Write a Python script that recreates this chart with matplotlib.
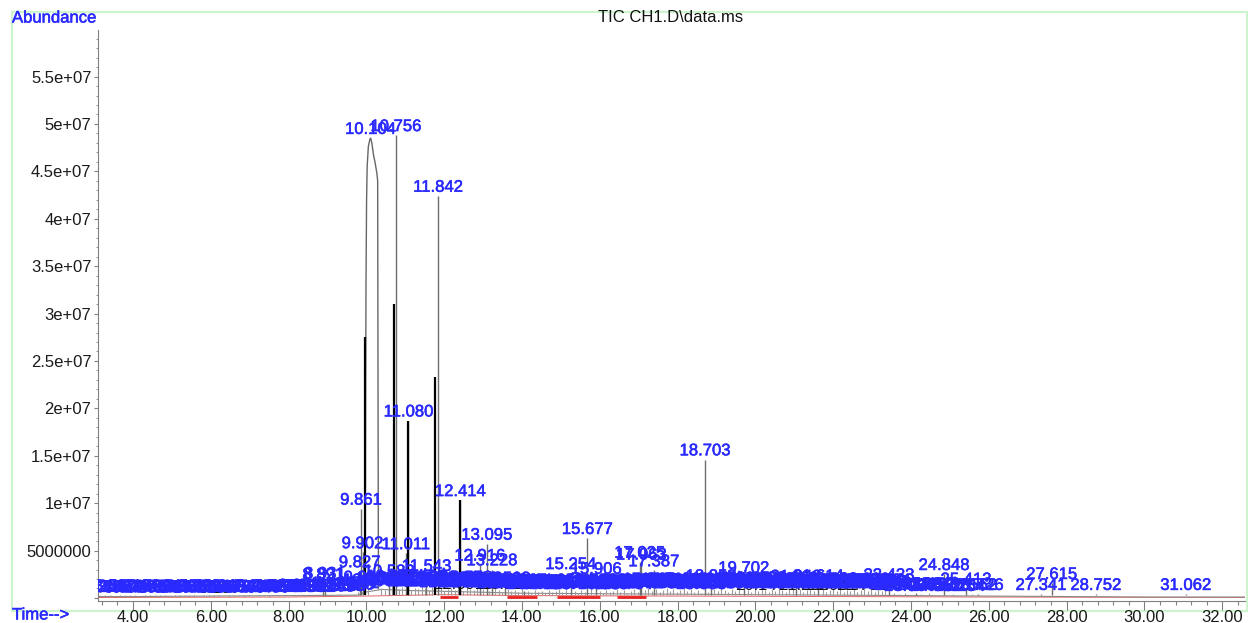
import numpy as np
import matplotlib.pyplot as plt
import matplotlib.patheffects as pe
from matplotlib.ticker import MultipleLocator, FuncFormatter
from matplotlib.patches import Rectangle

plt.rcParams['font.family'] = ['Liberation Sans', 'DejaVu Sans']

# labelled peaks: retention time (min), apex abundance (x1e6)
peak_rt = [8.891, 8.931, 9.827, 9.861, 9.902, 10.583, 10.756, 11.011, 11.080, 11.543,
           11.842, 12.414, 12.916, 13.095, 13.228, 13.562, 14.063, 15.254, 15.677, 15.906,
           17.025, 17.063, 17.387, 18.703, 18.859, 19.702, 21.043, 21.614, 23.433, 24.128,
           24.848, 25.413, 25.726, 27.341, 27.615, 28.752, 31.062]
peak_h = [1.5, 1.6, 2.8, 9.4, 4.8, 1.85, 48.8, 4.7, 18.7, 2.4,
          42.4, 10.3, 3.5, 5.7, 3.0, 1.1, 0.7, 2.6, 6.3, 2.1,
          3.8, 3.6, 2.9, 14.6, 1.35, 2.2, 1.3, 1.35, 1.45, 0.5,
          2.5, 1.0, 0.4, 0.4, 1.55, 0.4, 0.4]

# the big saturated peak at 10.104
broad_t = [9.97, 9.98, 9.99, 10.005, 10.02, 10.05, 10.09, 10.11, 10.14, 10.18,
           10.22, 10.27, 10.29, 10.30, 10.31]
broad_v = [0.5, 20.0, 33.0, 42.0, 45.5, 47.6, 48.4, 48.5, 48.0, 46.8,
           46.0, 44.8, 44.0, 20.0, 1.0]
broad_label = 10.104

# dark leading edges of the large peaks
edge_rt = [9.96, 10.71, 11.08, 11.77, 12.41]
edge_top = [27.5, 31.0, 18.7, 23.3, 10.3]

# small integrated peaks along the baseline
small_rt = [3.153, 3.281, 3.402, 3.537, 3.664, 3.792, 3.918, 4.047, 4.176, 4.301,
            4.429, 4.558, 4.686, 4.813, 4.941, 5.069, 5.197, 5.325, 5.452, 5.581,
            5.709, 5.836, 5.964, 6.093, 6.221, 6.348, 6.476, 6.604, 6.732, 6.859,
            6.988, 7.116, 7.243, 7.372, 7.499, 7.627, 7.755, 7.883, 8.011, 8.139,
            8.267, 8.394, 8.523, 8.651, 8.778, 9.035, 9.163, 9.291, 9.418, 9.547,
            9.675, 9.781,
            9.953, 10.046, 10.381, 10.468, 10.647, 10.712, 10.834, 10.921, 11.153, 11.247,
            11.338, 11.426, 11.512, 11.604, 11.693, 11.918, 12.007, 12.096, 12.185, 12.274,
            12.363, 12.487, 12.576, 12.665, 12.754, 12.843, 12.998, 13.156, 13.312, 13.401,
            13.489, 13.641, 13.729, 13.818, 13.906, 13.995, 14.152, 14.241, 14.329, 14.418,
            14.507, 14.596, 14.684, 14.773, 14.862, 14.951, 15.039, 15.128, 15.352, 15.441,
            15.529, 15.618, 15.782, 15.994, 16.083, 16.172, 16.261, 16.349, 16.438, 16.527,
            16.616, 16.704, 16.793, 16.882, 16.971, 17.154, 17.243, 17.331, 17.448, 17.537,
            17.626, 17.715, 17.804, 17.893, 17.982, 18.071, 18.160, 18.249, 18.338, 18.427,
            18.516, 18.605, 18.794, 18.948, 19.037, 19.126, 19.215, 19.304, 19.393, 19.482,
            19.571, 19.803, 19.892, 19.981, 20.070, 20.159, 20.248, 20.337, 20.426, 20.515,
            20.604, 20.693, 20.782, 20.871, 20.960, 21.049, 21.138, 21.227, 21.316, 21.405,
            21.494, 21.732, 21.821, 21.910, 21.999, 22.088, 22.177, 22.266, 22.355, 22.444,
            22.533, 22.622, 22.711, 22.800, 22.889, 22.978, 23.067, 23.156, 23.245, 23.334,
            23.571, 23.702, 23.833, 23.964, 24.259, 24.452, 24.611, 25.081, 25.254, 25.562]
small_h = [0.2, 0.25, 0.15, 0.3, 0.2, 0.15, 0.25, 0.2, 0.3, 0.15,
           0.2, 0.25, 0.15, 0.2, 0.3, 0.2, 0.15, 0.25, 0.2, 0.15,
           0.3, 0.2, 0.25, 0.15, 0.2, 0.3, 0.15, 0.25, 0.2, 0.15,
           0.2, 0.3, 0.25, 0.2, 0.15, 0.3, 0.2, 0.25, 0.3, 0.2,
           0.35, 0.25, 0.3, 0.2, 0.35, 0.3, 0.25, 0.4, 0.3, 0.35,
           0.45, 0.6,
           1.2, 0.9, 1.1, 0.8, 1.3, 1.0, 0.9, 1.2, 0.8, 1.1,
           0.9, 1.3, 1.0, 0.8, 1.2, 1.0, 0.7, 0.9, 1.1, 0.8,
           1.0, 0.7, 1.2, 0.9, 0.8, 1.1, 0.9, 0.7, 1.0, 0.8,
           0.6, 0.9, 0.7, 0.8, 0.6, 0.9, 0.7, 0.5, 0.8, 0.6,
           0.7, 0.5, 0.8, 0.6, 0.7, 0.9, 0.6, 0.8, 0.7, 0.5,
           0.8, 0.6, 0.9, 0.7, 0.5, 0.8, 0.6, 0.7, 0.9, 0.6,
           0.8, 0.5, 0.7, 0.9, 0.6, 0.8, 1.0, 0.7, 0.9, 0.6,
           0.8, 1.0, 0.7, 0.9, 0.6, 0.8, 1.0, 0.7, 0.9, 0.6,
           0.8, 0.5, 0.6, 0.9, 0.7, 1.0, 0.8, 0.6, 0.9, 0.7,
           1.0, 0.8, 0.6, 0.9, 0.7, 1.1, 0.8, 0.6, 0.9, 0.7,
           1.0, 0.8, 0.6, 0.9, 1.1, 0.7, 0.9, 0.6, 0.8, 1.0,
           0.7, 0.9, 0.6, 0.8, 1.0, 0.7, 0.9, 0.6, 0.8, 0.7,
           0.9, 0.6, 0.8, 1.0, 0.7, 0.9, 0.6, 0.8, 0.7, 0.9,
           0.5, 0.4, 0.5, 0.3, 0.4, 0.5, 0.3, 0.4, 0.3, 0.4]

# black labels mostly hidden under the crowd (baseline abundance, x1e6)
dark_rt = [6.207, 8.462, 12.391, 13.624, 14.171, 20.144, 21.238, 21.951, 22.732]
dark_h = [0.55, 0.6, 0.9, 0.95, 0.9, 0.8, 0.85, 0.8, 0.85]

# baseline of the TIC trace (x1e6)
base_t = [3.09, 4.0, 6.0, 8.0, 9.8, 9.95, 10.4, 11.0, 12.0, 13.0, 14.0,
          16.0, 18.0, 20.0, 22.0, 24.0, 26.0, 28.0, 30.0, 32.6]
base_v = [0.15, 0.15, 0.2, 0.25, 0.3, 0.6, 0.9, 0.8, 0.7, 0.6, 0.5,
          0.45, 0.4, 0.35, 0.3, 0.25, 0.2, 0.15, 0.1, 0.1]
red_t = [3.09, 8.0, 10.0, 12.0, 14.0, 18.0, 22.0, 26.0, 32.6]
red_v = [0.05, 0.1, 0.2, 0.35, 0.25, 0.2, 0.15, 0.1, 0.05]
red_start = [11.89, 13.61, 14.90, 16.44]
red_end = [12.35, 14.38, 16.00, 17.20]

blue = '#2a2aff'
grey = '#8a8a8a'
M = 1e6
lab_pad = 0.45
thick = [pe.withStroke(linewidth=0.4, foreground=blue)]

fig = plt.figure(figsize=(12.48, 6.23), dpi=100)
ax = fig.add_axes([97.7 / 1248, 22 / 623, (1245 - 97.7) / 1248, 571 / 623])

ax.plot(red_t, np.array(red_v) * M, color='#e86060', lw=0.7, zorder=1)
ax.hlines(np.full(len(red_start), 0.1 * M), red_start, red_end, color='#e82020', lw=2.0, zorder=1)
ax.plot(base_t, np.array(base_v) * M, color=grey, lw=0.8, zorder=2)
ax.vlines(small_rt, 0.3 * M, np.array(small_h) * M, color='#9a9a9a', lw=0.8, zorder=2)
ax.vlines(peak_rt, 0.3 * M, np.array(peak_h) * M, color='#6e6e6e', lw=1.0, zorder=2)
ax.plot(broad_t, np.array(broad_v) * M, color='#666666', lw=1.0, zorder=2)
ax.vlines(edge_rt, 0.3 * M, np.array(edge_top) * M, color='black', lw=1.6, zorder=3)

for rt, h in zip(dark_rt, dark_h):
    ax.text(rt, h * M, f'{rt:.3f}', color='#111111', fontsize=12, ha='center',
            va='baseline', clip_on=True, zorder=4)
for rt, h in zip(small_rt, small_h):
    ax.text(rt, (h + lab_pad) * M, f'{rt:.3f}', color=blue, fontsize=12, ha='center',
            va='baseline', clip_on=True, zorder=5, path_effects=thick)
for rt, h in zip(peak_rt, peak_h):
    ax.text(rt, (h + lab_pad) * M, f'{rt:.3f}', color=blue, fontsize=12, ha='center',
            va='baseline', clip_on=True, zorder=5, path_effects=thick)
ax.text(broad_label, (max(broad_v) + lab_pad) * M, f'{broad_label:.3f}', color=blue,
        fontsize=12, ha='center', va='baseline', clip_on=True, zorder=5, path_effects=thick)

ax.set_xlim(3.093, 32.586)
ax.set_ylim(-0.32 * M, 59.91 * M)

for s in ['top', 'right']:
    ax.spines[s].set_visible(False)
for s in ['left', 'bottom']:
    ax.spines[s].set_color('#808080')
    ax.spines[s].set_linewidth(0.8)

ax.xaxis.set_major_locator(MultipleLocator(2))
ax.xaxis.set_minor_locator(MultipleLocator(0.4))
ax.xaxis.set_major_formatter(FuncFormatter(lambda v, p: f'{v:.2f}'))
ax.yaxis.set_major_locator(MultipleLocator(5 * M))
ax.yaxis.set_minor_locator(MultipleLocator(1 * M))


def yfmt(v, p):
    if v <= 0:
        return ''
    if v < 1e7:
        return f'{int(v)}'
    return f'{v:g}'


ax.yaxis.set_major_formatter(FuncFormatter(yfmt))
ax.tick_params(axis='x', which='major', length=6.5, width=0.8, color='#808080',
               labelsize=12, labelcolor='#1a1a1a', pad=0)
ax.tick_params(axis='x', which='minor', length=3, width=0.8, color='#808080')
ax.tick_params(axis='y', which='major', length=3, width=0.8, color='#808080',
               labelsize=12, labelcolor='#1a1a1a', pad=1.5)
ax.tick_params(axis='y', which='minor', length=1.8, width=0.6, color='#808080')

frame = Rectangle((12 / 1248, 12 / 623), 1235 / 1248, 599 / 623, fill=False,
                  ec='#cdf5cd', lw=1.5, transform=fig.transFigure, zorder=-1)
fig.patches.append(frame)

fig.text(12 / 1248, 1 - 18 / 623, 'Abundance', color=blue, fontsize=12, ha='left', va='center',
         path_effects=thick)
fig.text(671 / 1248, 1 - 18 / 623, 'TIC CH1.D\\data.ms', color='#111111', fontsize=12,
         ha='center', va='center')
fig.text(12 / 1248, 1 - 615 / 623, 'Time-->', color=blue, fontsize=12, ha='left', va='center',
         path_effects=thick)

fig.savefig('out.png', dpi=100)
